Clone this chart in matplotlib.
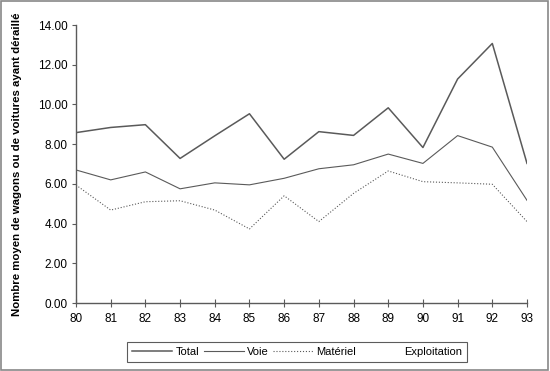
import numpy as np
import matplotlib.pyplot as plt
from matplotlib.patches import Rectangle

plt.rcParams['font.family'] = ['Liberation Sans', 'DejaVu Sans']

years = [80, 81, 82, 83, 84, 85, 86, 87, 88, 89, 90, 91, 92, 93]
year_labels = ['80', '81', '82', '83', '84', '85', '86', '87', '88', '89', '90', '91', '92', '93']
total = [8.58, 8.84, 8.98, 7.28, 8.42, 9.53, 7.24, 8.63, 8.44, 9.83, 7.83, 11.28, 13.07, 7.03]
voie = [6.70, 6.20, 6.60, 5.75, 6.05, 5.95, 6.28, 6.76, 6.96, 7.50, 7.03, 8.43, 7.85, 5.17]
materiel = [5.94, 4.68, 5.10, 5.15, 4.68, 3.73, 5.40, 4.10, 5.52, 6.65, 6.11, 6.05, 5.98, 4.10]
exploitation = [np.nan] * 14
y_ticks = [0, 2, 4, 6, 8, 10, 12, 14]

grey = '#5a5a5a'

fig = plt.figure(figsize=(5.5, 3.71), dpi=100)
ax = fig.add_axes([76/550, 1-303/371, 451/550, 278/371])

ax.plot(years, total, '-', color=grey, linewidth=1.1, label='Total')
ax.plot(years, voie, '-', color=grey, linewidth=0.8, label='Voie')
ax.plot(years, materiel, ':', color=grey, linewidth=0.8, label='Matériel')
ax.plot(years, exploitation, '-', color='white', linewidth=0.8, label='Exploitation')

ax.set_xlim(80, 93)
ax.set_ylim(0, 14)
ax.set_xticks(years)
ax.set_xticklabels(year_labels)
ax.set_yticks(y_ticks)
ax.set_yticklabels(['{0:.2f}'.format(v) for v in y_ticks])
ax.spines['top'].set_visible(False)
ax.spines['right'].set_visible(False)
for side in ['left', 'bottom']:
    ax.spines[side].set_color(grey)
    ax.spines[side].set_linewidth(1.0)
ax.tick_params(axis='x', direction='inout', length=6, color=grey, labelsize=8.5, pad=4)
ax.tick_params(axis='y', direction='out', length=3, color=grey, labelsize=8.5, pad=3)

ax.set_ylabel('Nombre moyen de wagons ou de voitures ayant déraillé',
              fontsize=8.2, fontweight='bold')
ax.yaxis.set_label_coords(-54/451, 0.5)

leg = fig.legend(loc='center', bbox_to_anchor=(297/550, 1-352/371), ncol=4,
                 fontsize=8, frameon=True, fancybox=False, handlelength=3.6,
                 handletextpad=0.3, columnspacing=0.4, borderpad=0.45)
leg.get_frame().set_edgecolor('#333333')
leg.get_frame().set_linewidth(0.8)

fig.patches.append(Rectangle((0.002, 0.003), 0.995, 0.994, transform=fig.transFigure,
                             fill=False, edgecolor='#888888', linewidth=1.2))

fig.savefig('out.png', dpi=100)
